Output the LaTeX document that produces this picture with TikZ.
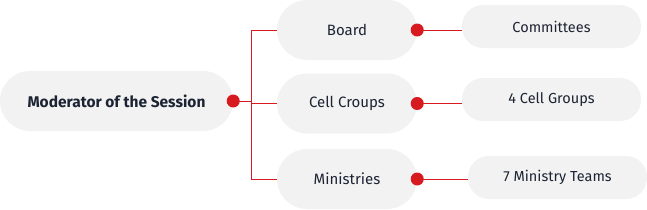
\documentclass[tikz,border=0pt]{standalone}
\usepackage{fontspec}
\setmainfont{Fira Sans}
\usetikzlibrary{positioning,calc}
\definecolor{pillgray}{HTML}{F2F2F2}
\definecolor{inkblue}{HTML}{1C2433}
\definecolor{dotred}{HTML}{D71920}

\begin{document}
\begin{tikzpicture}[
    x=1pt, y=-1pt,
    pill/.style={rectangle, fill=pillgray, rounded corners=30pt, text=inkblue, inner sep=0pt, font=\fontsize{15}{17}\selectfont},
    head/.style={pill, minimum width=233pt, minimum height=60pt, font=\fontsize{15.5}{17}\selectfont\bfseries},
    unit/.style={pill, minimum width=140pt, minimum height=60pt},
    team/.style={pill, rounded corners=21pt, minimum width=179pt, minimum height=43pt, font=\fontsize{14.5}{16}\selectfont},
    dot/.style={circle, fill=dotred, inner sep=0pt, minimum size=13pt},
    link/.style={draw=dotred, line width=0.8pt}
]
\useasboundingbox (0,0) rectangle (647,209);

% Left - Moderator
\node[head] (moderator) at (116.5,101) {Moderator of the Session};

% Middle - bodies
\node[unit] (board) at (347,30) {Board};
\node[unit] (cells) at (347,103.5) {Cell Croups};
\node[unit] (ministries) at (347,179) {Ministries};

% Right - teams
\node[team] (committees) at (551.5,26.5) {Committees};
\node[team] (cellgroups) at (551.5,99.5) {4 Cell Groups};
\node[team] (ministryteams) at (557.5,177.5) {7 Ministry Teams};

% Branch point
\coordinate (split) at (251,101);

% Lines
\draw[link] (moderator.east) -- (split);
\draw[link] (split) |- (board.west);
\draw[link] (split) |- (cells.west);
\draw[link] (split) |- (ministries.west);
\draw[link] (board.east) -- (committees.west |- board.east);
\draw[link] (cells.east) -- (cellgroups.west |- cells.east);
\draw[link] (ministries.east) -- (ministryteams.west |- ministries.east);

% Dots
\node[dot] (dmod) at (moderator.east) {};
\node[dot] (dboard) at (board.east) {};
\node[dot] (dcells) at (cells.east) {};
\node[dot] (dmin) at (ministries.east) {};

\end{tikzpicture}
\end{document}
